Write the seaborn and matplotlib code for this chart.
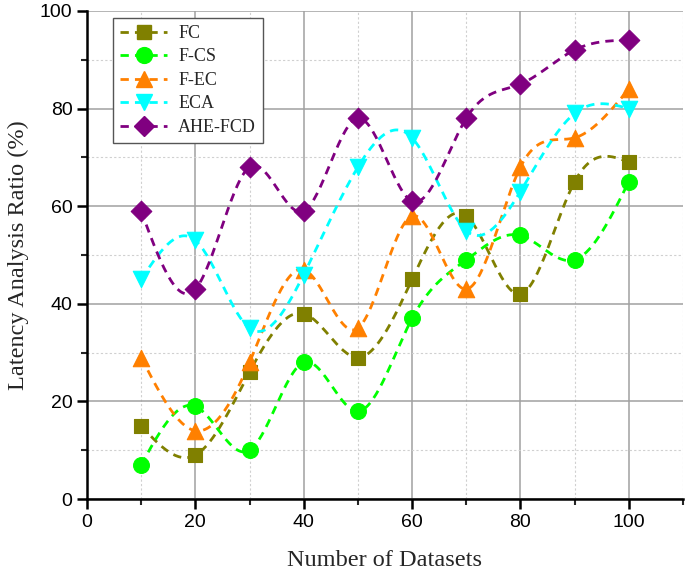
import numpy as np
import pandas as pd
import matplotlib
matplotlib.use("Agg")
import matplotlib.pyplot as plt
from matplotlib.lines import Line2D
from matplotlib.ticker import MultipleLocator
import seaborn as sns

datasets = [10, 20, 30, 40, 50, 60, 70, 80, 90, 100]
fc = [15, 9, 26, 38, 29, 45, 58, 42, 65, 69]
f_cs = [7, 19, 10, 28, 18, 37, 49, 54, 49, 65]
f_ec = [29, 14, 28, 47, 35, 58, 43, 68, 74, 84]
eca = [45, 53, 35, 46, 68, 74, 55, 63, 79, 80]
ahe_fcd = [59, 43, 68, 59, 78, 61, 78, 85, 92, 94]

series_names = ["FC", "F-CS", "F-EC", "ECA", "AHE-FCD"]
series_values = [fc, f_cs, f_ec, eca, ahe_fcd]
colors = ["#808000", "#00ff00", "#ff8000", "#00ffff", "#800080"]
markers = ["s", "o", "^", "v", "D"]
msizes = [110, 130, 140, 140, 110]


def natural_spline(x, y, n=300):
    x = np.asarray(x, float)
    y = np.asarray(y, float)
    k = len(x)
    h = np.diff(x)
    A = np.zeros((k, k))
    b = np.zeros(k)
    A[0, 0] = 1
    A[-1, -1] = 1
    for i in range(1, k - 1):
        A[i, i - 1] = h[i - 1]
        A[i, i] = 2 * (h[i - 1] + h[i])
        A[i, i + 1] = h[i]
        b[i] = 6 * ((y[i + 1] - y[i]) / h[i] - (y[i] - y[i - 1]) / h[i - 1])
    M = np.linalg.solve(A, b)
    xs = np.linspace(x[0], x[-1], n)
    idx = np.clip(np.searchsorted(x, xs) - 1, 0, k - 2)
    x0, x1 = x[idx], x[idx + 1]
    hh = x1 - x0
    t0 = x1 - xs
    t1 = xs - x0
    ys = (M[idx] * t0 ** 3 / (6 * hh) + M[idx + 1] * t1 ** 3 / (6 * hh)
          + (y[idx] / hh - M[idx] * hh / 6) * t0
          + (y[idx + 1] / hh - M[idx + 1] * hh / 6) * t1)
    return xs, ys


sns.set_style("white")
plt.rcParams["font.family"] = ["Liberation Sans", "DejaVu Sans"]

fig = plt.figure(figsize=(6.85, 5.73), dpi=100)
ax = fig.add_axes([0.127, 0.129, 0.870, 0.852])

handles = []
for name, vals, c, m, s in zip(series_names, series_values, colors, markers, msizes):
    xs, ys = natural_spline(datasets, vals)
    curve = pd.DataFrame({"x": xs, "y": ys})
    sns.lineplot(data=curve, x="x", y="y", ax=ax, color=c, linewidth=2,
                 linestyle=(0, (3, 2.2)), zorder=3, legend=False)
    pts = pd.DataFrame({"x": datasets, "y": vals})
    sns.scatterplot(data=pts, x="x", y="y", ax=ax, color=c, marker=m, s=s,
                    edgecolor=c, linewidth=0.8, zorder=4, legend=False)
    handles.append(Line2D([0], [0], color=c, linewidth=2, linestyle=(0, (3, 2.2)),
                          marker=m, markersize=np.sqrt(s), markeredgecolor=c,
                          label=name))

ax.set_xlim(0, 110)
ax.set_ylim(0, 100)
ax.xaxis.set_major_locator(MultipleLocator(20))
ax.xaxis.set_minor_locator(MultipleLocator(10))
ax.yaxis.set_major_locator(MultipleLocator(20))
ax.yaxis.set_minor_locator(MultipleLocator(10))
ax.grid(True, which="major", color="#a0a0a0", linewidth=1.1, linestyle="-")
ax.grid(True, which="minor", color="#d0d0d0", linewidth=0.8, linestyle=(0, (2, 2)))
ax.set_axisbelow(True)

for side in ["top", "right"]:
    ax.spines[side].set_visible(False)
for side in ["left", "bottom"]:
    ax.spines[side].set_color("black")
    ax.spines[side].set_linewidth(1.8)

ax.tick_params(which="major", direction="out", length=7, width=1.8, labelsize=14,
               bottom=True, left=True, colors="black")
ax.tick_params(which="minor", direction="out", length=4, width=1.5,
               bottom=True, left=True)

serif = ["Liberation Serif", "DejaVu Serif"]
ax.set_xlabel("Number of Datasets", fontsize=17.5, family=serif, labelpad=14)
ax.set_ylabel("Latency Analysis Ratio (%)", fontsize=17.5, family=serif, labelpad=8)

leg = ax.legend(handles=handles, loc="upper left", bbox_to_anchor=(0.044, 0.986),
                borderaxespad=0,
                prop={"family": serif, "size": 13},
                frameon=True, fancybox=False, edgecolor="#555555", framealpha=1,
                handlelength=2.6, handletextpad=0.6, borderpad=0.4, labelspacing=0.36)
leg.get_frame().set_linewidth(1.0)

fig.savefig("out.png", dpi=100)
